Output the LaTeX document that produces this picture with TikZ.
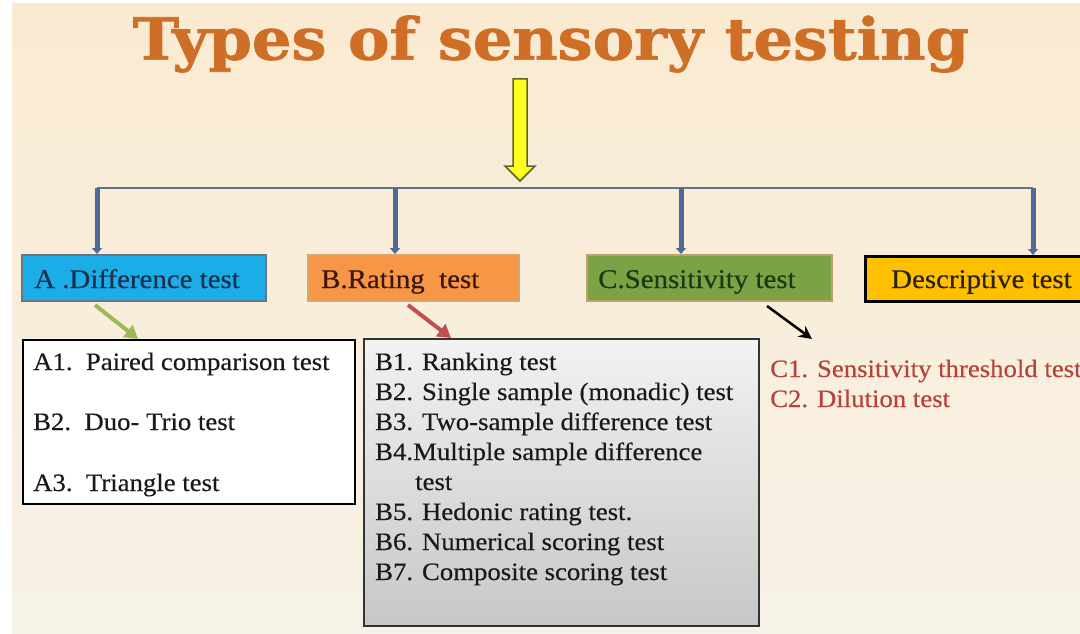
\documentclass[tikz,border=0pt]{standalone}
\usepackage{fontspec}
\setmainfont{Liberation Serif}[FakeStretch=1.07,FakeBold=0.35]
\newfontfamily\titlefont{DejaVu Serif}[FakeBold=1.2]
\usetikzlibrary{arrows.meta,calc}

\definecolor{bgtop}{HTML}{FAEAD1}
\definecolor{bgbot}{HTML}{F7F2E7}
\definecolor{titleor}{HTML}{CF6F27}
\definecolor{yfill}{HTML}{FFFF22}
\definecolor{yline}{HTML}{5C6420}
\definecolor{hlcol}{HTML}{5F7388}
\definecolor{vcol}{HTML}{4D6B94}
\definecolor{cA}{HTML}{1AADE8}
\definecolor{cAline}{HTML}{6A7580}
\definecolor{cAtext}{HTML}{1B2F4E}
\definecolor{cB}{HTML}{F79646}
\definecolor{cBline}{HTML}{D8A66A}
\definecolor{cBtext}{HTML}{3A160C}
\definecolor{cC}{HTML}{7DA145}
\definecolor{cCline}{HTML}{BBA46C}
\definecolor{cCtext}{HTML}{1C3812}
\definecolor{cD}{HTML}{FFC000}
\definecolor{cDtext}{HTML}{2A2208}
\definecolor{cGreen}{HTML}{9BBB59}
\definecolor{cRed}{HTML}{C0504D}
\definecolor{cListRed}{HTML}{B5423B}

% heading word art, stretched to its frame
\newcommand\titletext{%
  \resizebox*{836pt}{57pt}{\titlefont\bfseries Types of sensory testing}}

\begin{document}
\begin{tikzpicture}[x=1pt,y=-1pt,
  catbox/.style={rectangle, inner sep=0pt, anchor=north west, line width=2pt},
  lbl/.style={anchor=base west, inner sep=0pt, font=\fontsize{27}{32}\selectfont},
  item/.style={anchor=base west, inner sep=0pt, font=\fontsize{25}{30}\selectfont, text=black!90},
  ritem/.style={item, text=cListRed},
  vconn/.style={draw=vcol, line width=5pt, -{Triangle[length=6pt,width=10pt]}},
  diag/.style={line width=4pt, -{Triangle[length=13pt,width=15pt]}},
]
\useasboundingbox (0,0) rectangle (1080,634);
\fill[white] (0,0) rectangle (1080,634);
\shade[top color=bgtop, bottom color=bgbot] (12,4) rectangle (1080,634);

% heading
\node[inner sep=0pt, text=titleor] (title) at (551,44) {\titletext};

% yellow block arrow down to the branching line
\coordinate (ytop) at (520,79);
\coordinate (ytip) at (520,181);
\draw[fill=yfill, draw=yline, line width=1.5pt, line join=miter]
  ($(ytop)+(-7,0)$) -- ($(ytop)+(7,0)$) -- ($(ytip)+(7,-15)$) -- ($(ytip)+(15,-15)$)
  -- (ytip) -- ($(ytip)+(-15,-15)$) -- ($(ytip)+(-7,-15)$) -- cycle;

% category boxes
\node[catbox, fill=cA, draw=cAline, minimum width=244pt, minimum height=46pt] (A) at (21,254) {};
\node[catbox, fill=cB, draw=cBline, minimum width=211pt, minimum height=46pt] (B) at (307,254) {};
\node[catbox, fill=cC, draw=cCline, minimum width=245pt, minimum height=46pt] (C) at (586,254) {};
\node[catbox, fill=cD, draw=black, line width=2.5pt, minimum width=230pt, minimum height=45pt] (D) at (864,255) {};

\node[lbl, text=cAtext] (Atxt) at (34,288) {A .Difference test};
\node[lbl, text=cBtext] (Btxt) at (321,288) {B.Rating\ \ test};
\node[lbl, text=cCtext] (Ctxt) at (598,288) {C.Sensitivity test};
\node[lbl, text=cDtext] (Dtxt) at (891,288) {Descriptive test};

% branching line and drops
\coordinate (j1) at (97,188);
\coordinate (j2) at (395,188);
\coordinate (j3) at (681,188);
\coordinate (j4) at (1033,188);
\draw[draw=hlcol, line width=1.8pt] (j1) -- (j4);
\foreach \j/\b in {j1/A, j2/B, j3/C, j4/D}
  \draw[vconn] (\j) -- (\j |- \b.north);

% detail boxes
\node[catbox, fill=white, draw=black, minimum width=332pt, minimum height=164pt] (Alist) at (22,339) {};
\node[catbox, top color=black!5, bottom color=black!22, draw=black!80, line width=1.5pt,
      minimum width=395pt, minimum height=287pt] (Blist) at (363,338) {};

\node[item] (a1) at (33,370) {A1.\ \ Paired comparison test};
\node[item] (a2) at (33,430) {B2.\ \ Duo- Trio test};
\node[item] (a3) at (33,491) {A3.\ \ Triangle test};

\node[item] (b1) at (375,370) {B1. Ranking test};
\node[item] (b2) at (375,400) {B2. Single sample (monadic) test};
\node[item] (b3) at (375,430) {B3. Two-sample difference test};
\node[item] (b4) at (375,460) {B4.Multiple sample difference};
\node[item] (b4b) at (415,490) {test};
\node[item] (b5) at (375,520) {B5. Hedonic rating test.};
\node[item] (b6) at (375,550) {B6. Numerical scoring test};
\node[item] (b7) at (375,580) {B7. Composite scoring test};

\node[ritem] (c1) at (770,377) {C1. Sensitivity threshold test};
\node[ritem] (c2) at (770,407) {C2. Dilution test};

% pointers from categories to their lists
\coordinate (ga) at (95,305);  \coordinate (gb) at (138,339);
\coordinate (ra) at (408,305); \coordinate (rb) at (451,338);
\coordinate (ka) at (767,306); \coordinate (kb) at (812,339);
\draw[diag, draw=cGreen] (ga) -- (gb);
\draw[diag, draw=cRed] (ra) -- (rb);
\draw[line width=2.5pt, -{Stealth[length=13pt,width=13pt]}] (ka) -- (kb);
\end{tikzpicture}
\end{document}
